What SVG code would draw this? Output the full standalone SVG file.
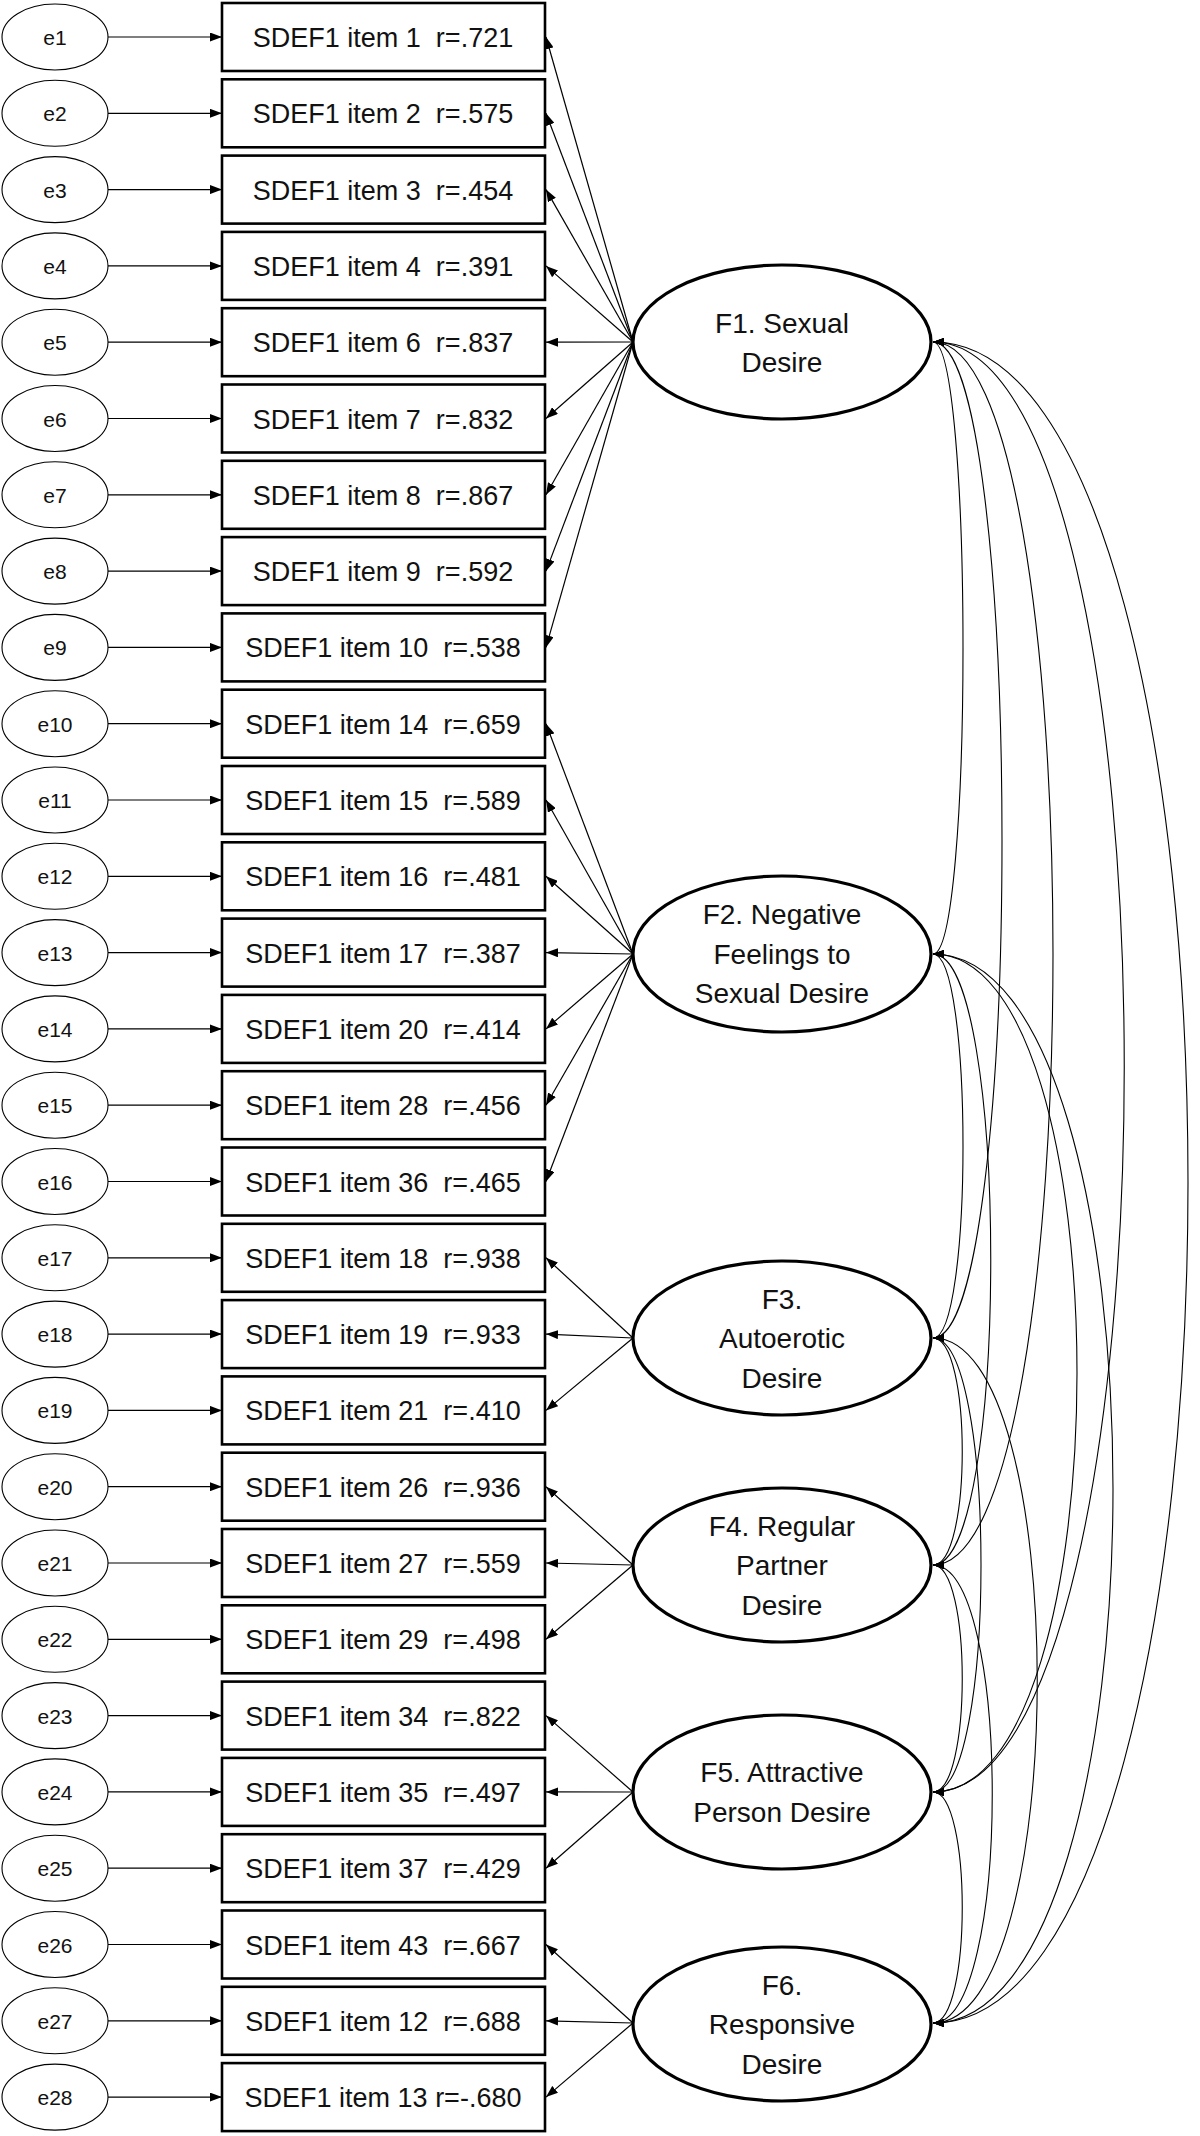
<svg xmlns="http://www.w3.org/2000/svg" width="1200" height="2136" viewBox="0 0 1200 2136" xml:space="preserve">
<style>
.err ellipse{fill:#fff;stroke:#000;stroke-width:1.1}
.err text{font-family:"Liberation Sans",Arial,sans-serif;font-size:21px;text-anchor:middle;fill:#111}
.box rect{fill:#fff;stroke:#000;stroke-width:2.6}
.box text{font-family:"Liberation Sans",Arial,sans-serif;font-size:27px;text-anchor:middle;fill:#111;white-space:pre}
.fac ellipse{fill:#fff;stroke:#000;stroke-width:3.2}
.fac text{font-family:"Liberation Sans",Arial,sans-serif;font-size:28px;text-anchor:middle;fill:#111}
.ea{stroke:#000;stroke-width:1.2;fill:none;marker-end:url(#ah)}
.ld{stroke:#000;stroke-width:1.2;fill:none;marker-end:url(#ah)}
.cv{stroke:#000;stroke-width:1.1;fill:none;marker-start:url(#ch);marker-end:url(#ch)}
</style>
<defs>
<marker id="ah" viewBox="0 0 12 9" refX="12" refY="4.5" markerWidth="12" markerHeight="9" markerUnits="userSpaceOnUse" orient="auto"><path d="M0,0 L12,4.5 L0,9 z" fill="#000"/></marker>
<marker id="ch" viewBox="0 0 11 8" refX="11" refY="4" markerWidth="11" markerHeight="8" markerUnits="userSpaceOnUse" orient="auto-start-reverse"><path d="M0,0 L11,4 L0,8 z" fill="#000"/></marker>
</defs>
<rect width="1200" height="2136" fill="#fff"/>

<g id="connectors">
<line class="ea" x1="108" y1="37" x2="222" y2="37"/>
<line class="ea" x1="108" y1="113.3" x2="222" y2="113.3"/>
<line class="ea" x1="108" y1="189.6" x2="222" y2="189.6"/>
<line class="ea" x1="108" y1="265.9" x2="222" y2="265.9"/>
<line class="ea" x1="108" y1="342.2" x2="222" y2="342.2"/>
<line class="ea" x1="108" y1="418.5" x2="222" y2="418.5"/>
<line class="ea" x1="108" y1="494.8" x2="222" y2="494.8"/>
<line class="ea" x1="108" y1="571.1" x2="222" y2="571.1"/>
<line class="ea" x1="108" y1="647.4" x2="222" y2="647.4"/>
<line class="ea" x1="108" y1="723.7" x2="222" y2="723.7"/>
<line class="ea" x1="108" y1="800" x2="222" y2="800"/>
<line class="ea" x1="108" y1="876.3" x2="222" y2="876.3"/>
<line class="ea" x1="108" y1="952.6" x2="222" y2="952.6"/>
<line class="ea" x1="108" y1="1028.9" x2="222" y2="1028.9"/>
<line class="ea" x1="108" y1="1105.2" x2="222" y2="1105.2"/>
<line class="ea" x1="108" y1="1181.5" x2="222" y2="1181.5"/>
<line class="ea" x1="108" y1="1257.8" x2="222" y2="1257.8"/>
<line class="ea" x1="108" y1="1334.1" x2="222" y2="1334.1"/>
<line class="ea" x1="108" y1="1410.4" x2="222" y2="1410.4"/>
<line class="ea" x1="108" y1="1486.7" x2="222" y2="1486.7"/>
<line class="ea" x1="108" y1="1563" x2="222" y2="1563"/>
<line class="ea" x1="108" y1="1639.3" x2="222" y2="1639.3"/>
<line class="ea" x1="108" y1="1715.6" x2="222" y2="1715.6"/>
<line class="ea" x1="108" y1="1791.9" x2="222" y2="1791.9"/>
<line class="ea" x1="108" y1="1868.2" x2="222" y2="1868.2"/>
<line class="ea" x1="108" y1="1944.5" x2="222" y2="1944.5"/>
<line class="ea" x1="108" y1="2020.8" x2="222" y2="2020.8"/>
<line class="ea" x1="108" y1="2097.1" x2="222" y2="2097.1"/>
<line class="ld" x1="633" y1="342" x2="546" y2="37"/>
<line class="ld" x1="633" y1="342" x2="546" y2="113.3"/>
<line class="ld" x1="633" y1="342" x2="546" y2="189.6"/>
<line class="ld" x1="633" y1="342" x2="546" y2="265.9"/>
<line class="ld" x1="633" y1="342" x2="546" y2="342.2"/>
<line class="ld" x1="633" y1="342" x2="546" y2="418.5"/>
<line class="ld" x1="633" y1="342" x2="546" y2="494.8"/>
<line class="ld" x1="633" y1="342" x2="546" y2="571.1"/>
<line class="ld" x1="633" y1="342" x2="546" y2="647.4"/>
<line class="ld" x1="633" y1="954" x2="546" y2="723.7"/>
<line class="ld" x1="633" y1="954" x2="546" y2="800"/>
<line class="ld" x1="633" y1="954" x2="546" y2="876.3"/>
<line class="ld" x1="633" y1="954" x2="546" y2="952.6"/>
<line class="ld" x1="633" y1="954" x2="546" y2="1028.9"/>
<line class="ld" x1="633" y1="954" x2="546" y2="1105.2"/>
<line class="ld" x1="633" y1="954" x2="546" y2="1181.5"/>
<line class="ld" x1="633" y1="1338" x2="546" y2="1257.8"/>
<line class="ld" x1="633" y1="1338" x2="546" y2="1334.1"/>
<line class="ld" x1="633" y1="1338" x2="546" y2="1410.4"/>
<line class="ld" x1="633" y1="1565" x2="546" y2="1486.7"/>
<line class="ld" x1="633" y1="1565" x2="546" y2="1563"/>
<line class="ld" x1="633" y1="1565" x2="546" y2="1639.3"/>
<line class="ld" x1="633" y1="1792" x2="546" y2="1715.6"/>
<line class="ld" x1="633" y1="1792" x2="546" y2="1791.9"/>
<line class="ld" x1="633" y1="1792" x2="546" y2="1868.2"/>
<line class="ld" x1="633" y1="2023" x2="546" y2="1944.5"/>
<line class="ld" x1="633" y1="2023" x2="546" y2="2020.8"/>
<line class="ld" x1="633" y1="2023" x2="546" y2="2097.1"/>
<path class="cv" d="M933,342 C973,342 973,954 933,954"/>
<path class="cv" d="M933,342 C1025,342 1025,1338 933,1338"/>
<path class="cv" d="M933,342 C1093,342 1093,1565 933,1565"/>
<path class="cv" d="M933,342 C1188,342 1188,1792 933,1792"/>
<path class="cv" d="M933,342 C1273,342 1273,2023 933,2023"/>
<path class="cv" d="M933,954 C973,954 973,1338 933,1338"/>
<path class="cv" d="M933,954 C1010,954 1010,1565 933,1565"/>
<path class="cv" d="M933,954 C1125,954 1125,1792 933,1792"/>
<path class="cv" d="M933,954 C1173,954 1173,2023 933,2023"/>
<path class="cv" d="M933,1338 C972,1338 972,1565 933,1565"/>
<path class="cv" d="M933,1338 C997,1338 997,1792 933,1792"/>
<path class="cv" d="M933,1338 C1072,1338 1072,2023 933,2023"/>
<path class="cv" d="M933,1565 C972,1565 972,1792 933,1792"/>
<path class="cv" d="M933,1565 C1012,1565 1012,2023 933,2023"/>
<path class="cv" d="M933,1792 C972,1792 972,2023 933,2023"/>
</g>

<g id="errors" class="err">
<g id="e1"><ellipse cx="55" cy="37" rx="53" ry="33"/><text x="55" y="45">e1</text></g>
<g id="e2"><ellipse cx="55" cy="113.3" rx="53" ry="33"/><text x="55" y="121.3">e2</text></g>
<g id="e3"><ellipse cx="55" cy="189.6" rx="53" ry="33"/><text x="55" y="197.6">e3</text></g>
<g id="e4"><ellipse cx="55" cy="265.9" rx="53" ry="33"/><text x="55" y="273.9">e4</text></g>
<g id="e5"><ellipse cx="55" cy="342.2" rx="53" ry="33"/><text x="55" y="350.2">e5</text></g>
<g id="e6"><ellipse cx="55" cy="418.5" rx="53" ry="33"/><text x="55" y="426.5">e6</text></g>
<g id="e7"><ellipse cx="55" cy="494.8" rx="53" ry="33"/><text x="55" y="502.8">e7</text></g>
<g id="e8"><ellipse cx="55" cy="571.1" rx="53" ry="33"/><text x="55" y="579.1">e8</text></g>
<g id="e9"><ellipse cx="55" cy="647.4" rx="53" ry="33"/><text x="55" y="655.4">e9</text></g>
<g id="e10"><ellipse cx="55" cy="723.7" rx="53" ry="33"/><text x="55" y="731.7">e10</text></g>
<g id="e11"><ellipse cx="55" cy="800" rx="53" ry="33"/><text x="55" y="808">e11</text></g>
<g id="e12"><ellipse cx="55" cy="876.3" rx="53" ry="33"/><text x="55" y="884.3">e12</text></g>
<g id="e13"><ellipse cx="55" cy="952.6" rx="53" ry="33"/><text x="55" y="960.6">e13</text></g>
<g id="e14"><ellipse cx="55" cy="1028.9" rx="53" ry="33"/><text x="55" y="1036.9">e14</text></g>
<g id="e15"><ellipse cx="55" cy="1105.2" rx="53" ry="33"/><text x="55" y="1113.2">e15</text></g>
<g id="e16"><ellipse cx="55" cy="1181.5" rx="53" ry="33"/><text x="55" y="1189.5">e16</text></g>
<g id="e17"><ellipse cx="55" cy="1257.8" rx="53" ry="33"/><text x="55" y="1265.8">e17</text></g>
<g id="e18"><ellipse cx="55" cy="1334.1" rx="53" ry="33"/><text x="55" y="1342.1">e18</text></g>
<g id="e19"><ellipse cx="55" cy="1410.4" rx="53" ry="33"/><text x="55" y="1418.4">e19</text></g>
<g id="e20"><ellipse cx="55" cy="1486.7" rx="53" ry="33"/><text x="55" y="1494.7">e20</text></g>
<g id="e21"><ellipse cx="55" cy="1563" rx="53" ry="33"/><text x="55" y="1571">e21</text></g>
<g id="e22"><ellipse cx="55" cy="1639.3" rx="53" ry="33"/><text x="55" y="1647.3">e22</text></g>
<g id="e23"><ellipse cx="55" cy="1715.6" rx="53" ry="33"/><text x="55" y="1723.6">e23</text></g>
<g id="e24"><ellipse cx="55" cy="1791.9" rx="53" ry="33"/><text x="55" y="1799.9">e24</text></g>
<g id="e25"><ellipse cx="55" cy="1868.2" rx="53" ry="33"/><text x="55" y="1876.2">e25</text></g>
<g id="e26"><ellipse cx="55" cy="1944.5" rx="53" ry="33"/><text x="55" y="1952.5">e26</text></g>
<g id="e27"><ellipse cx="55" cy="2020.8" rx="53" ry="33"/><text x="55" y="2028.8">e27</text></g>
<g id="e28"><ellipse cx="55" cy="2097.1" rx="53" ry="33"/><text x="55" y="2105.1">e28</text></g>
</g>

<g id="items" class="box">
<g id="item1"><rect x="222" y="3" width="323" height="68"/><text x="383" y="47">SDEF1 item 1  r=.721</text></g>
<g id="item2"><rect x="222" y="79.3" width="323" height="68"/><text x="383" y="123.3">SDEF1 item 2  r=.575</text></g>
<g id="item3"><rect x="222" y="155.6" width="323" height="68"/><text x="383" y="199.6">SDEF1 item 3  r=.454</text></g>
<g id="item4"><rect x="222" y="231.9" width="323" height="68"/><text x="383" y="275.9">SDEF1 item 4  r=.391</text></g>
<g id="item6"><rect x="222" y="308.2" width="323" height="68"/><text x="383" y="352.2">SDEF1 item 6  r=.837</text></g>
<g id="item7"><rect x="222" y="384.5" width="323" height="68"/><text x="383" y="428.5">SDEF1 item 7  r=.832</text></g>
<g id="item8"><rect x="222" y="460.8" width="323" height="68"/><text x="383" y="504.8">SDEF1 item 8  r=.867</text></g>
<g id="item9"><rect x="222" y="537.1" width="323" height="68"/><text x="383" y="581.1">SDEF1 item 9  r=.592</text></g>
<g id="item10"><rect x="222" y="613.4" width="323" height="68"/><text x="383" y="657.4">SDEF1 item 10  r=.538</text></g>
<g id="item14"><rect x="222" y="689.7" width="323" height="68"/><text x="383" y="733.7">SDEF1 item 14  r=.659</text></g>
<g id="item15"><rect x="222" y="766" width="323" height="68"/><text x="383" y="810">SDEF1 item 15  r=.589</text></g>
<g id="item16"><rect x="222" y="842.3" width="323" height="68"/><text x="383" y="886.3">SDEF1 item 16  r=.481</text></g>
<g id="item17"><rect x="222" y="918.6" width="323" height="68"/><text x="383" y="962.6">SDEF1 item 17  r=.387</text></g>
<g id="item20"><rect x="222" y="994.9" width="323" height="68"/><text x="383" y="1038.9">SDEF1 item 20  r=.414</text></g>
<g id="item28"><rect x="222" y="1071.2" width="323" height="68"/><text x="383" y="1115.2">SDEF1 item 28  r=.456</text></g>
<g id="item36"><rect x="222" y="1147.5" width="323" height="68"/><text x="383" y="1191.5">SDEF1 item 36  r=.465</text></g>
<g id="item18"><rect x="222" y="1223.8" width="323" height="68"/><text x="383" y="1267.8">SDEF1 item 18  r=.938</text></g>
<g id="item19"><rect x="222" y="1300.1" width="323" height="68"/><text x="383" y="1344.1">SDEF1 item 19  r=.933</text></g>
<g id="item21"><rect x="222" y="1376.4" width="323" height="68"/><text x="383" y="1420.4">SDEF1 item 21  r=.410</text></g>
<g id="item26"><rect x="222" y="1452.7" width="323" height="68"/><text x="383" y="1496.7">SDEF1 item 26  r=.936</text></g>
<g id="item27"><rect x="222" y="1529" width="323" height="68"/><text x="383" y="1573">SDEF1 item 27  r=.559</text></g>
<g id="item29"><rect x="222" y="1605.3" width="323" height="68"/><text x="383" y="1649.3">SDEF1 item 29  r=.498</text></g>
<g id="item34"><rect x="222" y="1681.6" width="323" height="68"/><text x="383" y="1725.6">SDEF1 item 34  r=.822</text></g>
<g id="item35"><rect x="222" y="1757.9" width="323" height="68"/><text x="383" y="1801.9">SDEF1 item 35  r=.497</text></g>
<g id="item37"><rect x="222" y="1834.2" width="323" height="68"/><text x="383" y="1878.2">SDEF1 item 37  r=.429</text></g>
<g id="item43"><rect x="222" y="1910.5" width="323" height="68"/><text x="383" y="1954.5">SDEF1 item 43  r=.667</text></g>
<g id="item12"><rect x="222" y="1986.8" width="323" height="68"/><text x="383" y="2030.8">SDEF1 item 12  r=.688</text></g>
<g id="item13"><rect x="222" y="2063.1" width="323" height="68"/><text x="383" y="2107.1">SDEF1 item 13 r=-.680</text></g>
</g>

<g id="factors" class="fac">
<g id="F1"><ellipse cx="782" cy="342" rx="149" ry="77"/><text x="782" y="333">F1. Sexual</text><text x="782" y="372">Desire</text></g>
<g id="F2"><ellipse cx="782" cy="954" rx="149" ry="78"/><text x="782" y="924">F2. Negative</text><text x="782" y="964">Feelings to</text><text x="782" y="1003">Sexual Desire</text></g>
<g id="F3"><ellipse cx="782" cy="1338" rx="149" ry="77"/><text x="782" y="1309">F3.</text><text x="782" y="1348">Autoerotic</text><text x="782" y="1388">Desire</text></g>
<g id="F4"><ellipse cx="782" cy="1565" rx="149" ry="77"/><text x="782" y="1536">F4. Regular</text><text x="782" y="1575">Partner</text><text x="782" y="1615">Desire</text></g>
<g id="F5"><ellipse cx="782" cy="1792" rx="149" ry="77"/><text x="782" y="1782">F5. Attractive</text><text x="782" y="1822">Person Desire</text></g>
<g id="F6"><ellipse cx="782" cy="2024" rx="149" ry="77"/><text x="782" y="1995">F6.</text><text x="782" y="2034">Responsive</text><text x="782" y="2074">Desire</text></g>
</g>
</svg>
